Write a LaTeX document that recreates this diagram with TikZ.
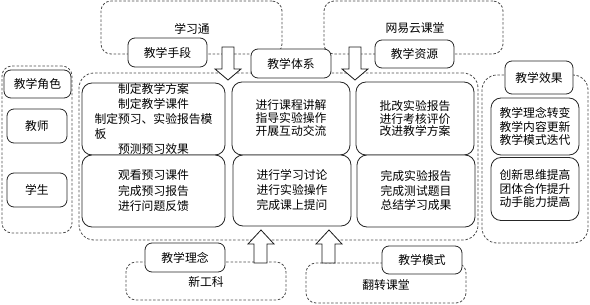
\documentclass[tikz,border=0pt]{standalone}
\usepackage{fontspec}
\setmainfont{Noto Sans CJK SC}
\begin{document}
\begin{tikzpicture}[x=1pt,y=-1pt,
  font=\fontsize{11.8pt}{14pt}\selectfont,
  box/.style={draw=black!85, line width=0.8pt, rounded corners=7pt, fill=white, align=center, inner sep=0pt},
  grp/.style={draw=black!70, line width=0.8pt, dash pattern=on 2.5pt off 1.8pt, rounded corners=#1, inner sep=0pt},
  grp/.default=10pt,
  barrow/.style={draw=black!90, line width=0.8pt, fill=white, line join=miter}]
\useasboundingbox (0,0) rectangle (590,305);

% dashed containers
\node[grp, minimum width=181pt, minimum height=53pt] (gxxt) at (191.5,27.5) {};
\node[grp, minimum width=179pt, minimum height=53pt] (gwyy) at (413.5,27.5) {};
\node[grp, minimum width=70pt, minimum height=167pt] (grole) at (37,149.5) {};
\node[grp=15pt, minimum width=399pt, minimum height=167pt] (gmain) at (278.5,156.5) {};
\node[grp=15pt, minimum width=106pt, minimum height=168pt] (geff) at (535,159) {};
\node[grp, minimum width=160pt, minimum height=38pt] (gxgk) at (206,281) {};
\node[grp, minimum width=160pt, minimum height=40pt] (gfz) at (386,283) {};

\node (txxt) at (192,29) {学习通};
\node (twyy) at (415,28) {网易云课堂};
\node (txgk) at (206,282) {新工科};
\node (tfz) at (386,285) {翻转课堂};

% block arrows
\coordinate (a1) at (228,80);
\coordinate (a2) at (355,80);
\coordinate (a3) at (261,230);
\coordinate (a4) at (329,230);
\draw[barrow] (222,47) -- (234,47) -- (234,69) -- (241,69) -- (a1) -- (215,69) -- (222,69) -- cycle;
\draw[barrow] (349,47) -- (361,47) -- (361,69) -- (368,69) -- (a2) -- (342,69) -- (349,69) -- cycle;
\draw[barrow] (254,263) -- (267,263) -- (267,244) -- (274,244) -- (a3) -- (248,244) -- (254,244) -- cycle;
\draw[barrow] (322,263) -- (335,263) -- (335,244) -- (342,244) -- (a4) -- (316,244) -- (322,244) -- cycle;

% label boxes
\node[box, minimum width=79pt, minimum height=29pt] (sd) at (167.5,52.5) {教学手段};
\node[box, minimum width=80pt, minimum height=29pt] (tx) at (291,63.5) {教学体系};
\node[box, minimum width=79pt, minimum height=28pt] (zy) at (414.5,54) {教学资源};
\node[box, minimum width=67pt, minimum height=28pt] (js) at (37.5,84) {教学角色};
\node[box, minimum width=60pt, minimum height=34pt] (teacher) at (37,126) {教师};
\node[box, minimum width=60pt, minimum height=34pt] (student) at (37,190) {学生};
\node[box, minimum width=68pt, minimum height=33pt] (xg) at (539,77.5) {教学效果};
\node[box, minimum width=80pt, minimum height=29pt] (ln) at (185,257.5) {教学理念};
\node[box, minimum width=80pt, minimum height=28pt] (ms) at (422,260) {教学模式};

% content boxes
\node[box, rounded corners=10pt, minimum width=143pt, minimum height=72pt, font=\fontsize{11.8pt}{15.2pt}\selectfont] (c1a) at (153.5,119)
  {制定教学方案\\制定教学课件\\制定预习、实验报告模\\\makebox[10em][l]{板}\\预测预习效果};
\node[box, rounded corners=10pt, minimum width=143pt, minimum height=72pt, font=\fontsize{11.8pt}{15.5pt}\selectfont] (c1b) at (153.5,191)
  {观看预习课件\\完成预习报告\\进行问题反馈};
\node[box, rounded corners=10pt, minimum width=118pt, minimum height=73pt, font=\fontsize{11.8pt}{13pt}\selectfont] (c2a) at (291,118.5)
  {进行课程讲解\\指导实验操作\\开展互动交流};
\node[box, rounded corners=10pt, minimum width=118pt, minimum height=71pt, font=\fontsize{11.8pt}{15pt}\selectfont] (c2b) at (292,190.5)
  {进行学习讨论\\进行实验操作\\完成课上提问};
\node[box, rounded corners=10pt, minimum width=118pt, minimum height=73pt, font=\fontsize{11.8pt}{12.8pt}\selectfont] (c3a) at (415,118.5)
  {批改实验报告\\进行考核评价\\改进教学方案};
\node[box, rounded corners=10pt, minimum width=118pt, minimum height=72pt, font=\fontsize{11.8pt}{14.5pt}\selectfont] (c3b) at (416,191)
  {完成实验报告\\完成测试题目\\总结学习成果};
\node[box, rounded corners=10pt, minimum width=88pt, minimum height=57pt, font=\fontsize{11.8pt}{13.5pt}\selectfont] (e1) at (535,126.5)
  {教学理念转变\\教学内容更新\\教学模式迭代};
\node[box, rounded corners=10pt, minimum width=88pt, minimum height=63pt, font=\fontsize{11.8pt}{13.5pt}\selectfont] (e2) at (535,189)
  {创新思维提高\\团体合作提升\\动手能力提高};
\end{tikzpicture}
\end{document}
